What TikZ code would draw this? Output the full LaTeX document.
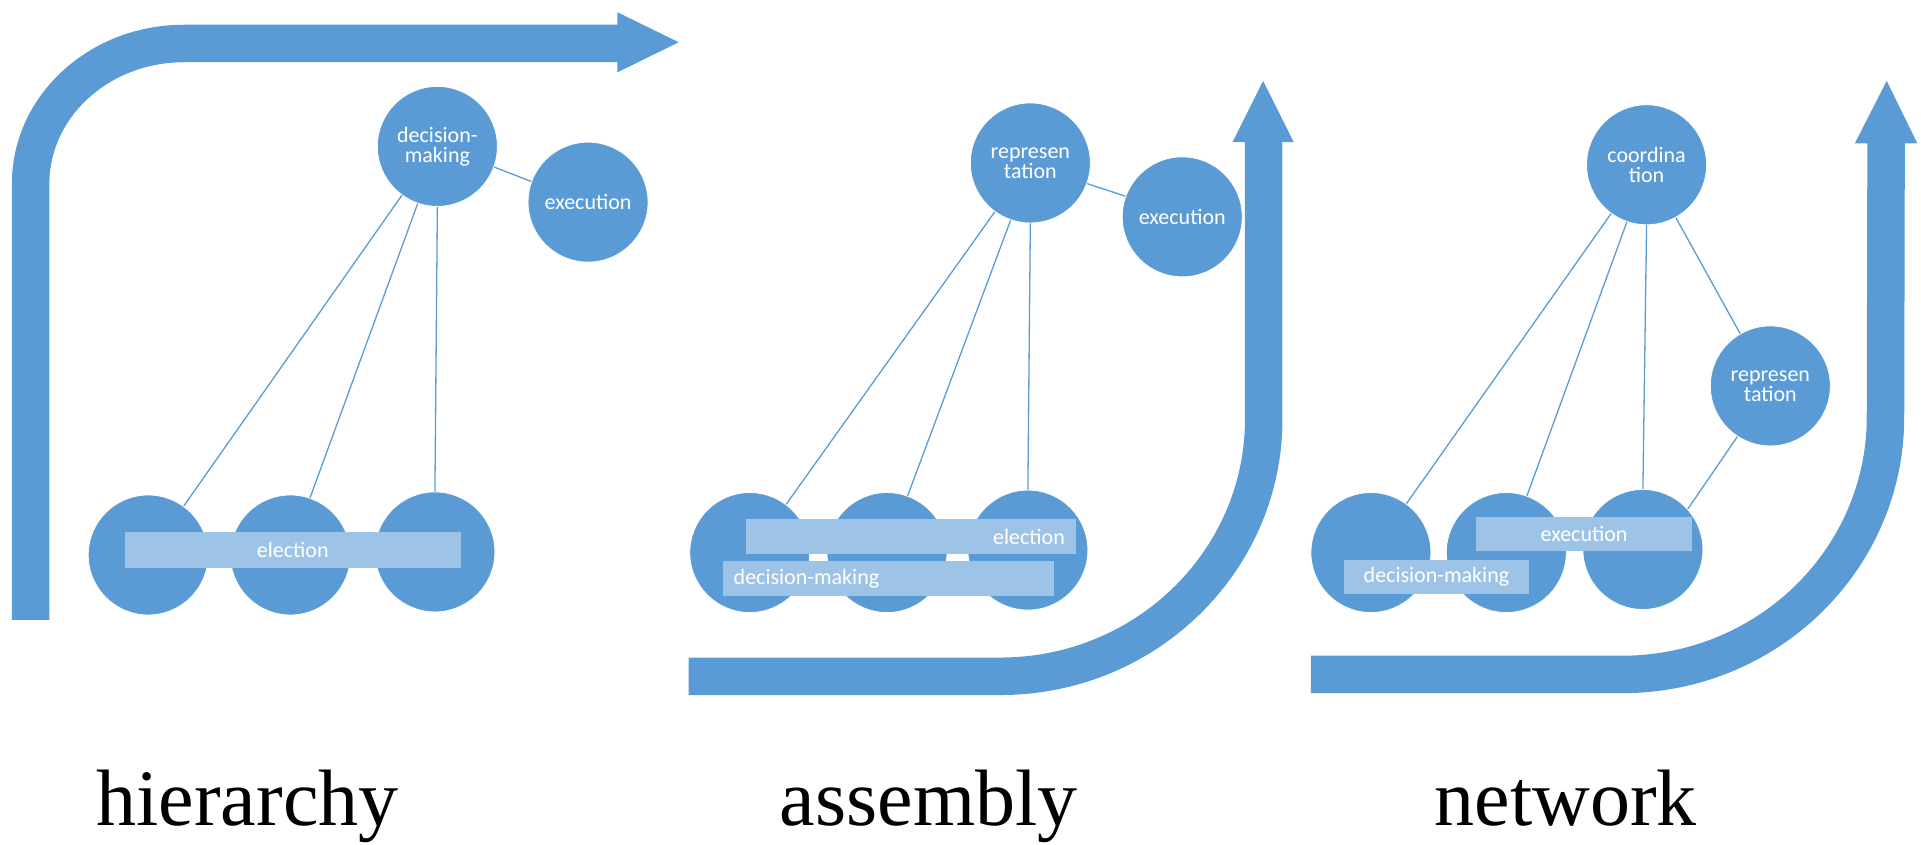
\documentclass[tikz,border=0pt]{standalone}
\usepackage{fontspec}
\setmainfont{Liberation Serif}
\newfontfamily\boxfont{Carlito}
\usepackage{tikz}

\definecolor{nodeblue}{RGB}{91,155,213}
\definecolor{barblue}{RGB}{157,195,230}

\begin{document}
\begin{tikzpicture}[x=1.2251pt, y=-1.2251pt,
    ball/.style={circle, fill=nodeblue, draw=white, line width=0.8pt,
      minimum size=120pt, inner sep=0pt, text=white, align=center,
      font=\boxfont\fontsize{22}{20}\selectfont},
    bar/.style={rectangle, fill=barblue, minimum height=34.5pt, inner sep=0pt,
      text=white, font=\boxfont\fontsize{22}{20}\selectfont},
    band/.style={draw=nodeblue, line width=37.5pt},
    link/.style={draw=nodeblue, line width=1.3pt},
    title/.style={anchor=base, font=\fontsize{80}{90}\selectfont}]
  \useasboundingbox (0,0) rectangle (1568,689);

  % 三个大箭头
  \draw[band] (25,506) -- (25,150) arc[start angle=180, end angle=270, x radius=125, y radius=114.5] -- (505,35.5);
  \fill[nodeblue] (504,10) -- (554,34.5) -- (504,59) -- cycle;
  \draw[band] (562,552) -- (816.5,552) arc[start angle=90, end angle=0, x radius=215, y radius=210] -- (1031.5,115);
  \fill[nodeblue] (1006,116) -- (1031,66) -- (1056,116) -- cycle;
  \draw[band] (1070,550.5) -- (1324,550.5) arc[start angle=90, end angle=0, x radius=215, y radius=210] -- (1539.5,116);
  \fill[nodeblue] (1514,117) -- (1540,66) -- (1565,117) -- cycle;

  % hierarchy
  \node[ball] (dm) at (357,119.5) {decision-\\making};
  \node[ball] (ex) at (480,165) {execution};
  \node[ball] (h1) at (121,453) {};
  \node[ball] (h2) at (237,453) {};
  \node[ball] (h3) at (355,450.5) {};
  \draw[link] (dm.340) -- (ex.160);
  \draw[link] (dm.234) -- (h1.54);
  \draw[link] (dm.251) -- (h2.71);
  \draw[link] (dm.270) -- (h3.90);
  \node[bar, minimum width=336pt, minimum height=36.75pt] (hel) at (239,449) {election};

  % assembly
  \node[ball] (rep) at (841,133) {represen\\tation};
  \node[ball] (aex) at (965,177) {execution};
  \node[ball] (a1) at (612,451) {};
  \node[ball] (a2) at (724,451) {};
  \node[ball] (a3) at (839,449) {};
  \draw[link] (rep.340) -- (aex.160);
  \draw[link] (rep.234) -- (a1.53);
  \draw[link] (rep.251) -- (a2.70);
  \draw[link] (rep.270) -- (a3.90);
  \node[bar, text width=308pt, inner xsep=11pt, align=right] (ael) at (743.5,438) {election};
  \node[bar, text width=309pt, inner xsep=11pt, align=left] (adm) at (725,472) {decision-making};

  % network
  \node[ball] (co) at (1344,134.5) {coordina\\tion};
  \node[ball] (nrep) at (1445,315) {represen\\tation};
  \node[ball] (n1) at (1119,451) {};
  \node[ball] (n2) at (1229.5,451) {};
  \node[ball] (n3) at (1341,448.5) {};
  \draw[link] (co.234) -- (n1.54);
  \draw[link] (co.251) -- (n2.70);
  \draw[link] (co.270) -- (n3.90);
  \draw[link] (co.299) -- (nrep.120);
  \draw[link] (nrep.237) -- (n3.42);
  \node[bar, minimum width=216pt] (nex) at (1293,436) {execution};
  \node[bar, minimum width=185pt] (ndm) at (1172.5,471) {decision-making};

  % 标题
  \node[title] (t1) at (202,674) {hierarchy};
  \node[title] (t2) at (758,674) {assembly};
  \node[title] (t3) at (1278,674) {network};
\end{tikzpicture}
\end{document}
